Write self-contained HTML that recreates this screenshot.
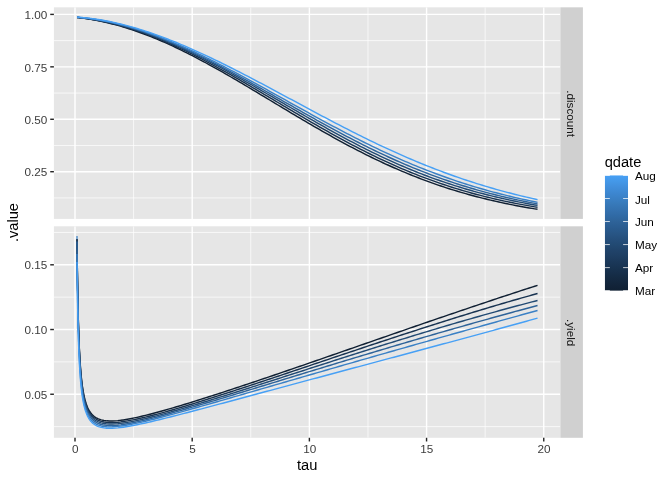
<!DOCTYPE html>
<html><head><meta charset="utf-8"><title>plot</title>
<style>svg{will-change:transform}svg text{filter:grayscale(1)}html,body{margin:0;padding:0;background:#fff;width:672px;height:480px;overflow:hidden;font-family:"Liberation Sans",sans-serif}</style>
</head><body>
<svg width="672" height="480" viewBox="0 0 672 480" style="position:absolute;left:0;top:0;font-family:'Liberation Sans',sans-serif">
<rect width="672" height="480" fill="#FFFFFF"/>
<defs><clipPath id="ct"><rect x="53.90" y="7.33" width="506.50" height="211.57"/></clipPath><clipPath id="cb"><rect x="53.90" y="226.30" width="506.50" height="211.50"/></clipPath>
<linearGradient id="lg" x1="0" y1="0" x2="0" y2="1"><stop offset="0.000" stop-color="#47A0F5"/><stop offset="0.050" stop-color="#4498E8"/><stop offset="0.100" stop-color="#418FDC"/><stop offset="0.150" stop-color="#3D87D1"/><stop offset="0.200" stop-color="#3A80C5"/><stop offset="0.250" stop-color="#3779B9"/><stop offset="0.300" stop-color="#3471AF"/><stop offset="0.350" stop-color="#306AA5"/><stop offset="0.400" stop-color="#2E6399"/><stop offset="0.450" stop-color="#2A5C90"/><stop offset="0.500" stop-color="#285686"/><stop offset="0.550" stop-color="#254F7C"/><stop offset="0.600" stop-color="#224A73"/><stop offset="0.650" stop-color="#20436A"/><stop offset="0.700" stop-color="#1E3E62"/><stop offset="0.750" stop-color="#1B3859"/><stop offset="0.800" stop-color="#183351"/><stop offset="0.850" stop-color="#162E49"/><stop offset="0.900" stop-color="#142941"/><stop offset="0.950" stop-color="#12243A"/><stop offset="1.000" stop-color="#102033"/></linearGradient></defs>
<rect x="53.90" y="7.33" width="506.50" height="211.57" fill="#E6E6E6"/>
<rect x="53.90" y="226.30" width="506.50" height="211.50" fill="#E6E6E6"/>
<g clip-path="url(#ct)" stroke="#FFFFFF">
<line x1="133.59" x2="133.59" y1="7.33" y2="218.90" stroke-width="0.71"/>
<line x1="250.78" x2="250.78" y1="7.33" y2="218.90" stroke-width="0.71"/>
<line x1="367.97" x2="367.97" y1="7.33" y2="218.90" stroke-width="0.71"/>
<line x1="485.16" x2="485.16" y1="7.33" y2="218.90" stroke-width="0.71"/>
<line x1="53.90" x2="560.40" y1="197.93" y2="197.93" stroke-width="0.71"/>
<line x1="53.90" x2="560.40" y1="145.49" y2="145.49" stroke-width="0.71"/>
<line x1="53.90" x2="560.40" y1="93.06" y2="93.06" stroke-width="0.71"/>
<line x1="53.90" x2="560.40" y1="40.62" y2="40.62" stroke-width="0.71"/>
<line x1="75.00" x2="75.00" y1="7.33" y2="218.90" stroke-width="1.42"/>
<line x1="192.19" x2="192.19" y1="7.33" y2="218.90" stroke-width="1.42"/>
<line x1="309.38" x2="309.38" y1="7.33" y2="218.90" stroke-width="1.42"/>
<line x1="426.56" x2="426.56" y1="7.33" y2="218.90" stroke-width="1.42"/>
<line x1="543.75" x2="543.75" y1="7.33" y2="218.90" stroke-width="1.42"/>
<line x1="53.90" x2="560.40" y1="171.71" y2="171.71" stroke-width="1.42"/>
<line x1="53.90" x2="560.40" y1="119.28" y2="119.28" stroke-width="1.42"/>
<line x1="53.90" x2="560.40" y1="66.84" y2="66.84" stroke-width="1.42"/>
<line x1="53.90" x2="560.40" y1="14.40" y2="14.40" stroke-width="1.42"/>
</g>
<g clip-path="url(#cb)" stroke="#FFFFFF">
<line x1="133.59" x2="133.59" y1="226.30" y2="437.80" stroke-width="0.71"/>
<line x1="250.78" x2="250.78" y1="226.30" y2="437.80" stroke-width="0.71"/>
<line x1="367.97" x2="367.97" y1="226.30" y2="437.80" stroke-width="0.71"/>
<line x1="485.16" x2="485.16" y1="226.30" y2="437.80" stroke-width="0.71"/>
<line x1="53.90" x2="560.40" y1="426.61" y2="426.61" stroke-width="0.71"/>
<line x1="53.90" x2="560.40" y1="361.89" y2="361.89" stroke-width="0.71"/>
<line x1="53.90" x2="560.40" y1="297.16" y2="297.16" stroke-width="0.71"/>
<line x1="53.90" x2="560.40" y1="232.44" y2="232.44" stroke-width="0.71"/>
<line x1="75.00" x2="75.00" y1="226.30" y2="437.80" stroke-width="1.42"/>
<line x1="192.19" x2="192.19" y1="226.30" y2="437.80" stroke-width="1.42"/>
<line x1="309.38" x2="309.38" y1="226.30" y2="437.80" stroke-width="1.42"/>
<line x1="426.56" x2="426.56" y1="226.30" y2="437.80" stroke-width="1.42"/>
<line x1="543.75" x2="543.75" y1="226.30" y2="437.80" stroke-width="1.42"/>
<line x1="53.90" x2="560.40" y1="394.25" y2="394.25" stroke-width="1.42"/>
<line x1="53.90" x2="560.40" y1="329.52" y2="329.52" stroke-width="1.42"/>
<line x1="53.90" x2="560.40" y1="264.80" y2="264.80" stroke-width="1.42"/>
</g>
<g clip-path="url(#ct)" fill="none" stroke-width="1.42" stroke-linejoin="round" stroke-linecap="butt">
<path d="M77.00,17.41 L77.36,17.45 L77.73,17.49 L78.09,17.53 L78.45,17.58 L78.82,17.62 L79.18,17.67 L79.54,17.71 L79.91,17.76 L80.27,17.80 L80.63,17.85 L81.00,17.89 L81.36,17.94 L81.72,17.99 L82.09,18.04 L82.45,18.09 L82.81,18.14 L83.18,18.19 L83.54,18.24 L83.90,18.29 L84.27,18.34 L84.63,18.39 L84.99,18.44 L85.36,18.50 L85.72,18.55 L86.08,18.61 L86.45,18.66 L86.81,18.72 L87.17,18.77 L87.54,18.83 L87.90,18.89 L88.26,18.94 L88.63,19.00 L88.99,19.06 L89.35,19.12 L89.72,19.18 L90.08,19.24 L90.44,19.30 L90.81,19.36 L91.17,19.42 L91.53,19.49 L91.90,19.55 L92.26,19.61 L92.62,19.68 L92.99,19.74 L93.35,19.81 L93.71,19.87 L94.08,19.94 L94.44,20.01 L94.80,20.07 L95.17,20.14 L95.53,20.21 L95.89,20.28 L96.26,20.35 L96.62,20.42 L96.98,20.49 L97.35,20.56 L97.71,20.63 L98.07,20.70 L98.44,20.78 L101.20,21.35 L103.96,21.95 L106.72,22.58 L109.48,23.24 L112.25,23.94 L115.01,24.66 L117.77,25.41 L120.53,26.19 L123.29,27.01 L126.05,27.85 L128.82,28.72 L131.58,29.61 L134.34,30.54 L137.10,31.49 L139.86,32.47 L142.62,33.48 L145.39,34.51 L148.15,35.57 L150.91,36.66 L153.67,37.77 L156.43,38.91 L159.19,40.07 L161.96,41.25 L164.72,42.46 L167.48,43.69 L170.24,44.94 L173.00,46.21 L175.76,47.51 L178.53,48.82 L181.29,50.16 L184.05,51.52 L186.81,52.89 L189.57,54.29 L192.33,55.70 L195.10,57.13 L197.86,58.57 L200.62,60.03 L203.38,61.51 L206.14,63.00 L208.90,64.51 L211.66,66.03 L214.43,67.56 L217.19,69.10 L219.95,70.66 L222.71,72.23 L225.47,73.81 L228.23,75.40 L231.00,77.00 L233.76,78.60 L236.52,80.22 L239.28,81.84 L242.04,83.47 L244.80,85.10 L247.57,86.75 L250.33,88.39 L253.09,90.04 L255.85,91.70 L258.61,93.35 L261.37,95.02 L264.14,96.68 L266.90,98.34 L269.66,100.01 L272.42,101.67 L275.18,103.34 L277.94,105.00 L280.71,106.66 L283.47,108.32 L286.23,109.98 L288.99,111.63 L291.75,113.29 L294.51,114.93 L297.28,116.57 L300.04,118.21 L302.80,119.84 L305.56,121.47 L308.32,123.09 L311.08,124.70 L313.85,126.30 L316.61,127.90 L319.37,129.49 L322.13,131.06 L324.89,132.63 L327.65,134.19 L330.42,135.74 L333.18,137.28 L335.94,138.80 L338.70,140.32 L341.46,141.82 L344.22,143.32 L346.99,144.79 L349.75,146.26 L352.51,147.71 L355.27,149.15 L358.03,150.58 L360.79,151.99 L363.56,153.39 L366.32,154.77 L369.08,156.14 L371.84,157.49 L374.60,158.82 L377.36,160.15 L380.13,161.45 L382.89,162.74 L385.65,164.02 L388.41,165.27 L391.17,166.51 L393.93,167.74 L396.70,168.95 L399.46,170.14 L402.22,171.31 L404.98,172.47 L407.74,173.61 L410.50,174.74 L413.27,175.84 L416.03,176.93 L418.79,178.01 L421.55,179.06 L424.31,180.10 L427.07,181.13 L429.83,182.13 L432.60,183.12 L435.36,184.09 L438.12,185.05 L440.88,185.98 L443.64,186.91 L446.40,187.81 L449.17,188.70 L451.93,189.57 L454.69,190.43 L457.45,191.27 L460.21,192.09 L462.97,192.90 L465.74,193.69 L468.50,194.47 L471.26,195.23 L474.02,195.97 L476.78,196.70 L479.54,197.42 L482.31,198.12 L485.07,198.81 L487.83,199.48 L490.59,200.13 L493.35,200.78 L496.11,201.41 L498.88,202.02 L501.64,202.62 L504.40,203.21 L507.16,203.79 L509.92,204.35 L512.68,204.90 L515.45,205.43 L518.21,205.96 L520.97,206.47 L523.73,206.97 L526.49,207.46 L529.25,207.93 L532.02,208.40 L534.78,208.85 L537.54,209.29" stroke="#102033"/>
<path d="M77.00,17.40 L77.36,17.44 L77.73,17.48 L78.09,17.52 L78.45,17.56 L78.82,17.60 L79.18,17.64 L79.54,17.68 L79.91,17.72 L80.27,17.76 L80.63,17.80 L81.00,17.85 L81.36,17.89 L81.72,17.93 L82.09,17.98 L82.45,18.02 L82.81,18.07 L83.18,18.11 L83.54,18.16 L83.90,18.21 L84.27,18.26 L84.63,18.30 L84.99,18.35 L85.36,18.40 L85.72,18.45 L86.08,18.50 L86.45,18.55 L86.81,18.61 L87.17,18.66 L87.54,18.71 L87.90,18.76 L88.26,18.82 L88.63,18.87 L88.99,18.93 L89.35,18.98 L89.72,19.04 L90.08,19.09 L90.44,19.15 L90.81,19.21 L91.17,19.27 L91.53,19.32 L91.90,19.38 L92.26,19.44 L92.62,19.50 L92.99,19.56 L93.35,19.62 L93.71,19.69 L94.08,19.75 L94.44,19.81 L94.80,19.87 L95.17,19.94 L95.53,20.00 L95.89,20.07 L96.26,20.13 L96.62,20.20 L96.98,20.26 L97.35,20.33 L97.71,20.40 L98.07,20.47 L98.44,20.54 L101.20,21.07 L103.96,21.64 L106.72,22.24 L109.48,22.87 L112.25,23.53 L115.01,24.22 L117.77,24.93 L120.53,25.68 L123.29,26.46 L126.05,27.26 L128.82,28.09 L131.58,28.95 L134.34,29.84 L137.10,30.76 L139.86,31.70 L142.62,32.67 L145.39,33.67 L148.15,34.69 L150.91,35.74 L153.67,36.81 L156.43,37.91 L159.19,39.03 L161.96,40.18 L164.72,41.35 L167.48,42.54 L170.24,43.75 L173.00,44.99 L175.76,46.24 L178.53,47.52 L181.29,48.82 L184.05,50.14 L186.81,51.47 L189.57,52.83 L192.33,54.20 L195.10,55.59 L197.86,57.00 L200.62,58.42 L203.38,59.86 L206.14,61.31 L208.90,62.78 L211.66,64.26 L214.43,65.76 L217.19,67.27 L219.95,68.79 L222.71,70.32 L225.47,71.86 L228.23,73.42 L231.00,74.98 L233.76,76.55 L236.52,78.13 L239.28,79.72 L242.04,81.32 L244.80,82.92 L247.57,84.53 L250.33,86.15 L253.09,87.77 L255.85,89.39 L258.61,91.02 L261.37,92.65 L264.14,94.29 L266.90,95.93 L269.66,97.57 L272.42,99.21 L275.18,100.85 L277.94,102.49 L280.71,104.14 L283.47,105.78 L286.23,107.42 L288.99,109.05 L291.75,110.69 L294.51,112.32 L297.28,113.95 L300.04,115.57 L302.80,117.19 L305.56,118.81 L308.32,120.42 L311.08,122.02 L313.85,123.62 L316.61,125.21 L319.37,126.79 L322.13,128.36 L324.89,129.93 L327.65,131.49 L330.42,133.03 L333.18,134.57 L335.94,136.10 L338.70,137.62 L341.46,139.12 L344.22,140.62 L346.99,142.10 L349.75,143.57 L352.51,145.03 L355.27,146.47 L358.03,147.90 L360.79,149.32 L363.56,150.72 L366.32,152.11 L369.08,153.49 L371.84,154.85 L374.60,156.20 L377.36,157.53 L380.13,158.84 L382.89,160.14 L385.65,161.42 L388.41,162.69 L391.17,163.94 L393.93,165.18 L396.70,166.39 L399.46,167.60 L402.22,168.78 L404.98,169.95 L407.74,171.10 L410.50,172.24 L413.27,173.35 L416.03,174.45 L418.79,175.54 L421.55,176.60 L424.31,177.65 L427.07,178.68 L429.83,179.70 L432.60,180.70 L435.36,181.68 L438.12,182.65 L440.88,183.59 L443.64,184.53 L446.40,185.44 L449.17,186.34 L451.93,187.22 L454.69,188.09 L457.45,188.94 L460.21,189.77 L462.97,190.59 L465.74,191.39 L468.50,192.18 L471.26,192.95 L474.02,193.71 L476.78,194.45 L479.54,195.17 L482.31,195.89 L485.07,196.58 L487.83,197.27 L490.59,197.93 L493.35,198.59 L496.11,199.23 L498.88,199.86 L501.64,200.47 L504.40,201.07 L507.16,201.66 L509.92,202.23 L512.68,202.79 L515.45,203.34 L518.21,203.88 L520.97,204.41 L523.73,204.92 L526.49,205.42 L529.25,205.91 L532.02,206.39 L534.78,206.85 L537.54,207.31" stroke="#183351"/>
<path d="M77.00,17.37 L77.36,17.40 L77.73,17.44 L78.09,17.47 L78.45,17.51 L78.82,17.54 L79.18,17.58 L79.54,17.62 L79.91,17.65 L80.27,17.69 L80.63,17.73 L81.00,17.77 L81.36,17.81 L81.72,17.85 L82.09,17.89 L82.45,17.93 L82.81,17.97 L83.18,18.02 L83.54,18.06 L83.90,18.10 L84.27,18.15 L84.63,18.19 L84.99,18.24 L85.36,18.28 L85.72,18.33 L86.08,18.38 L86.45,18.42 L86.81,18.47 L87.17,18.52 L87.54,18.57 L87.90,18.62 L88.26,18.67 L88.63,18.72 L88.99,18.77 L89.35,18.82 L89.72,18.87 L90.08,18.93 L90.44,18.98 L90.81,19.03 L91.17,19.09 L91.53,19.14 L91.90,19.20 L92.26,19.25 L92.62,19.31 L92.99,19.37 L93.35,19.43 L93.71,19.48 L94.08,19.54 L94.44,19.60 L94.80,19.66 L95.17,19.72 L95.53,19.78 L95.89,19.84 L96.26,19.90 L96.62,19.97 L96.98,20.03 L97.35,20.09 L97.71,20.16 L98.07,20.22 L98.44,20.29 L101.20,20.80 L103.96,21.34 L106.72,21.91 L109.48,22.52 L112.25,23.15 L115.01,23.81 L117.77,24.50 L120.53,25.22 L123.29,25.97 L126.05,26.75 L128.82,27.56 L131.58,28.39 L134.34,29.25 L137.10,30.14 L139.86,31.06 L142.62,32.00 L145.39,32.97 L148.15,33.96 L150.91,34.98 L153.67,36.03 L156.43,37.10 L159.19,38.19 L161.96,39.30 L164.72,40.44 L167.48,41.60 L170.24,42.79 L173.00,43.99 L175.76,45.22 L178.53,46.46 L181.29,47.73 L184.05,49.01 L186.81,50.31 L189.57,51.64 L192.33,52.97 L195.10,54.33 L197.86,55.70 L200.62,57.09 L203.38,58.49 L206.14,59.91 L208.90,61.34 L211.66,62.79 L214.43,64.25 L217.19,65.72 L219.95,67.21 L222.71,68.70 L225.47,70.21 L228.23,71.72 L231.00,73.25 L233.76,74.79 L236.52,76.33 L239.28,77.88 L242.04,79.44 L244.80,81.01 L247.57,82.59 L250.33,84.17 L253.09,85.75 L255.85,87.34 L258.61,88.94 L261.37,90.54 L264.14,92.14 L266.90,93.74 L269.66,95.35 L272.42,96.96 L275.18,98.57 L277.94,100.18 L280.71,101.79 L283.47,103.41 L286.23,105.02 L288.99,106.63 L291.75,108.24 L294.51,109.84 L297.28,111.45 L300.04,113.05 L302.80,114.64 L305.56,116.24 L308.32,117.82 L311.08,119.41 L313.85,120.99 L316.61,122.56 L319.37,124.12 L322.13,125.68 L324.89,127.23 L327.65,128.77 L330.42,130.31 L333.18,131.83 L335.94,133.35 L338.70,134.85 L341.46,136.35 L344.22,137.84 L346.99,139.31 L349.75,140.78 L352.51,142.23 L355.27,143.67 L358.03,145.10 L360.79,146.51 L363.56,147.91 L366.32,149.30 L369.08,150.68 L371.84,152.04 L374.60,153.38 L377.36,154.71 L380.13,156.03 L382.89,157.33 L385.65,158.62 L388.41,159.89 L391.17,161.15 L393.93,162.39 L396.70,163.62 L399.46,164.83 L402.22,166.02 L404.98,167.19 L407.74,168.36 L410.50,169.50 L413.27,170.63 L416.03,171.74 L418.79,172.83 L421.55,173.91 L424.31,174.97 L427.07,176.02 L429.83,177.05 L432.60,178.06 L435.36,179.05 L438.12,180.03 L440.88,181.00 L443.64,181.94 L446.40,182.87 L449.17,183.79 L451.93,184.69 L454.69,185.57 L457.45,186.44 L460.21,187.29 L462.97,188.13 L465.74,188.95 L468.50,189.75 L471.26,190.54 L474.02,191.32 L476.78,192.08 L479.54,192.82 L482.31,193.56 L485.07,194.27 L487.83,194.98 L490.59,195.67 L493.35,196.34 L496.11,197.00 L498.88,197.65 L501.64,198.29 L504.40,198.91 L507.16,199.52 L509.92,200.11 L512.68,200.70 L515.45,201.27 L518.21,201.83 L520.97,202.38 L523.73,202.91 L526.49,203.44 L529.25,203.95 L532.02,204.45 L534.78,204.94 L537.54,205.42" stroke="#224A73"/>
<path d="M77.00,17.37 L77.36,17.40 L77.73,17.42 L78.09,17.45 L78.45,17.48 L78.82,17.52 L79.18,17.55 L79.54,17.58 L79.91,17.61 L80.27,17.64 L80.63,17.68 L81.00,17.71 L81.36,17.75 L81.72,17.78 L82.09,17.82 L82.45,17.86 L82.81,17.89 L83.18,17.93 L83.54,17.97 L83.90,18.01 L84.27,18.05 L84.63,18.09 L84.99,18.13 L85.36,18.17 L85.72,18.21 L86.08,18.25 L86.45,18.30 L86.81,18.34 L87.17,18.38 L87.54,18.43 L87.90,18.47 L88.26,18.52 L88.63,18.57 L88.99,18.61 L89.35,18.66 L89.72,18.71 L90.08,18.76 L90.44,18.81 L90.81,18.86 L91.17,18.91 L91.53,18.96 L91.90,19.01 L92.26,19.06 L92.62,19.11 L92.99,19.17 L93.35,19.22 L93.71,19.27 L94.08,19.33 L94.44,19.38 L94.80,19.44 L95.17,19.50 L95.53,19.55 L95.89,19.61 L96.26,19.67 L96.62,19.73 L96.98,19.79 L97.35,19.85 L97.71,19.91 L98.07,19.97 L98.44,20.03 L101.20,20.52 L103.96,21.03 L106.72,21.58 L109.48,22.16 L112.25,22.77 L115.01,23.41 L117.77,24.08 L120.53,24.78 L123.29,25.51 L126.05,26.27 L128.82,27.06 L131.58,27.87 L134.34,28.72 L137.10,29.59 L139.86,30.49 L142.62,31.41 L145.39,32.36 L148.15,33.34 L150.91,34.34 L153.67,35.36 L156.43,36.41 L159.19,37.48 L161.96,38.58 L164.72,39.70 L167.48,40.84 L170.24,42.00 L173.00,43.18 L175.76,44.38 L178.53,45.60 L181.29,46.84 L184.05,48.10 L186.81,49.38 L189.57,50.68 L192.33,51.99 L195.10,53.32 L197.86,54.66 L200.62,56.02 L203.38,57.39 L206.14,58.78 L208.90,60.18 L211.66,61.60 L214.43,63.02 L217.19,64.46 L219.95,65.91 L222.71,67.37 L225.47,68.85 L228.23,70.33 L231.00,71.82 L233.76,73.32 L236.52,74.83 L239.28,76.34 L242.04,77.86 L244.80,79.39 L247.57,80.93 L250.33,82.47 L253.09,84.02 L255.85,85.57 L258.61,87.13 L261.37,88.69 L264.14,90.25 L266.90,91.82 L269.66,93.39 L272.42,94.96 L275.18,96.54 L277.94,98.11 L280.71,99.69 L283.47,101.26 L286.23,102.84 L288.99,104.41 L291.75,105.98 L294.51,107.55 L297.28,109.12 L300.04,110.69 L302.80,112.26 L305.56,113.82 L308.32,115.37 L311.08,116.92 L313.85,118.47 L316.61,120.02 L319.37,121.55 L322.13,123.08 L324.89,124.61 L327.65,126.12 L330.42,127.63 L333.18,129.14 L335.94,130.63 L338.70,132.12 L341.46,133.59 L344.22,135.06 L346.99,136.52 L349.75,137.97 L352.51,139.40 L355.27,140.83 L358.03,142.25 L360.79,143.65 L363.56,145.04 L366.32,146.42 L369.08,147.79 L371.84,149.14 L374.60,150.49 L377.36,151.81 L380.13,153.13 L382.89,154.43 L385.65,155.72 L388.41,156.99 L391.17,158.25 L393.93,159.50 L396.70,160.73 L399.46,161.94 L402.22,163.14 L404.98,164.33 L407.74,165.50 L410.50,166.66 L413.27,167.80 L416.03,168.92 L418.79,170.03 L421.55,171.13 L424.31,172.21 L427.07,173.27 L429.83,174.32 L432.60,175.35 L435.36,176.37 L438.12,177.37 L440.88,178.35 L443.64,179.33 L446.40,180.28 L449.17,181.22 L451.93,182.15 L454.69,183.06 L457.45,183.95 L460.21,184.83 L462.97,185.70 L465.74,186.55 L468.50,187.39 L471.26,188.21 L474.02,189.02 L476.78,189.81 L479.54,190.59 L482.31,191.35 L485.07,192.10 L487.83,192.84 L490.59,193.57 L493.35,194.28 L496.11,194.97 L498.88,195.66 L501.64,196.33 L504.40,196.99 L507.16,197.63 L509.92,198.27 L512.68,198.89 L515.45,199.49 L518.21,200.09 L520.97,200.68 L523.73,201.25 L526.49,201.81 L529.25,202.36 L532.02,202.90 L534.78,203.42 L537.54,203.94" stroke="#2E6399"/>
<path d="M77.00,17.20 L77.36,17.23 L77.73,17.25 L78.09,17.28 L78.45,17.31 L78.82,17.34 L79.18,17.37 L79.54,17.40 L79.91,17.43 L80.27,17.47 L80.63,17.50 L81.00,17.53 L81.36,17.57 L81.72,17.60 L82.09,17.64 L82.45,17.67 L82.81,17.71 L83.18,17.74 L83.54,17.78 L83.90,17.82 L84.27,17.86 L84.63,17.90 L84.99,17.94 L85.36,17.98 L85.72,18.02 L86.08,18.06 L86.45,18.10 L86.81,18.14 L87.17,18.18 L87.54,18.23 L87.90,18.27 L88.26,18.32 L88.63,18.36 L88.99,18.41 L89.35,18.45 L89.72,18.50 L90.08,18.55 L90.44,18.59 L90.81,18.64 L91.17,18.69 L91.53,18.74 L91.90,18.79 L92.26,18.84 L92.62,18.89 L92.99,18.95 L93.35,19.00 L93.71,19.05 L94.08,19.10 L94.44,19.16 L94.80,19.21 L95.17,19.27 L95.53,19.32 L95.89,19.38 L96.26,19.44 L96.62,19.49 L96.98,19.55 L97.35,19.61 L97.71,19.67 L98.07,19.73 L98.44,19.79 L101.20,20.26 L103.96,20.77 L106.72,21.30 L109.48,21.87 L112.25,22.47 L115.01,23.09 L117.77,23.75 L120.53,24.44 L123.29,25.15 L126.05,25.89 L128.82,26.66 L131.58,27.46 L134.34,28.28 L137.10,29.13 L139.86,30.01 L142.62,30.91 L145.39,31.84 L148.15,32.79 L150.91,33.77 L153.67,34.77 L156.43,35.79 L159.19,36.84 L161.96,37.91 L164.72,39.00 L167.48,40.11 L170.24,41.24 L173.00,42.39 L175.76,43.56 L178.53,44.75 L181.29,45.96 L184.05,47.19 L186.81,48.43 L189.57,49.69 L192.33,50.97 L195.10,52.26 L197.86,53.57 L200.62,54.89 L203.38,56.23 L206.14,57.58 L208.90,58.94 L211.66,60.32 L214.43,61.70 L217.19,63.10 L219.95,64.51 L222.71,65.94 L225.47,67.37 L228.23,68.81 L231.00,70.26 L233.76,71.72 L236.52,73.18 L239.28,74.66 L242.04,76.14 L244.80,77.63 L247.57,79.13 L250.33,80.63 L253.09,82.13 L255.85,83.65 L258.61,85.16 L261.37,86.68 L264.14,88.21 L266.90,89.73 L269.66,91.26 L272.42,92.80 L275.18,94.33 L277.94,95.87 L280.71,97.40 L283.47,98.94 L286.23,100.48 L288.99,102.02 L291.75,103.56 L294.51,105.09 L297.28,106.63 L300.04,108.16 L302.80,109.69 L305.56,111.22 L308.32,112.74 L311.08,114.26 L313.85,115.78 L316.61,117.30 L319.37,118.80 L322.13,120.31 L324.89,121.81 L327.65,123.30 L330.42,124.78 L333.18,126.26 L335.94,127.73 L338.70,129.20 L341.46,130.66 L344.22,132.10 L346.99,133.54 L349.75,134.98 L352.51,136.40 L355.27,137.81 L358.03,139.21 L360.79,140.61 L363.56,141.99 L366.32,143.36 L369.08,144.72 L371.84,146.07 L374.60,147.40 L377.36,148.73 L380.13,150.04 L382.89,151.34 L385.65,152.63 L388.41,153.91 L391.17,155.17 L393.93,156.42 L396.70,157.66 L399.46,158.88 L402.22,160.09 L404.98,161.28 L407.74,162.46 L410.50,163.63 L413.27,164.79 L416.03,165.93 L418.79,167.05 L421.55,168.16 L424.31,169.26 L427.07,170.34 L429.83,171.41 L432.60,172.46 L435.36,173.50 L438.12,174.53 L440.88,175.54 L443.64,176.54 L446.40,177.52 L449.17,178.49 L451.93,179.44 L454.69,180.38 L457.45,181.30 L460.21,182.21 L462.97,183.11 L465.74,183.99 L468.50,184.86 L471.26,185.72 L474.02,186.56 L476.78,187.39 L479.54,188.20 L482.31,189.00 L485.07,189.79 L487.83,190.56 L490.59,191.32 L493.35,192.07 L496.11,192.80 L498.88,193.53 L501.64,194.23 L504.40,194.93 L507.16,195.61 L509.92,196.28 L512.68,196.94 L515.45,197.59 L518.21,198.22 L520.97,198.85 L523.73,199.46 L526.49,200.06 L529.25,200.65 L532.02,201.22 L534.78,201.79 L537.54,202.34" stroke="#3A80C5"/>
<path d="M77.00,17.09 L77.36,17.12 L77.73,17.14 L78.09,17.17 L78.45,17.20 L78.82,17.23 L79.18,17.25 L79.54,17.28 L79.91,17.31 L80.27,17.34 L80.63,17.37 L81.00,17.41 L81.36,17.44 L81.72,17.47 L82.09,17.50 L82.45,17.54 L82.81,17.57 L83.18,17.61 L83.54,17.64 L83.90,17.68 L84.27,17.71 L84.63,17.75 L84.99,17.79 L85.36,17.83 L85.72,17.86 L86.08,17.90 L86.45,17.94 L86.81,17.98 L87.17,18.02 L87.54,18.06 L87.90,18.11 L88.26,18.15 L88.63,18.19 L88.99,18.24 L89.35,18.28 L89.72,18.32 L90.08,18.37 L90.44,18.41 L90.81,18.46 L91.17,18.51 L91.53,18.55 L91.90,18.60 L92.26,18.65 L92.62,18.70 L92.99,18.75 L93.35,18.80 L93.71,18.85 L94.08,18.90 L94.44,18.95 L94.80,19.00 L95.17,19.06 L95.53,19.11 L95.89,19.16 L96.26,19.22 L96.62,19.27 L96.98,19.33 L97.35,19.38 L97.71,19.44 L98.07,19.50 L98.44,19.55 L101.20,20.01 L103.96,20.49 L106.72,21.00 L109.48,21.54 L112.25,22.12 L115.01,22.71 L117.77,23.34 L120.53,24.00 L123.29,24.68 L126.05,25.39 L128.82,26.13 L131.58,26.89 L134.34,27.68 L137.10,28.49 L139.86,29.33 L142.62,30.19 L145.39,31.08 L148.15,31.99 L150.91,32.92 L153.67,33.88 L156.43,34.85 L159.19,35.85 L161.96,36.87 L164.72,37.91 L167.48,38.97 L170.24,40.05 L173.00,41.15 L175.76,42.27 L178.53,43.40 L181.29,44.56 L184.05,45.72 L186.81,46.91 L189.57,48.11 L192.33,49.33 L195.10,50.56 L197.86,51.81 L200.62,53.07 L203.38,54.35 L206.14,55.64 L208.90,56.94 L211.66,58.25 L214.43,59.58 L217.19,60.91 L219.95,62.26 L222.71,63.62 L225.47,64.99 L228.23,66.36 L231.00,67.75 L233.76,69.15 L236.52,70.55 L239.28,71.96 L242.04,73.38 L244.80,74.81 L247.57,76.24 L250.33,77.68 L253.09,79.12 L255.85,80.57 L258.61,82.03 L261.37,83.49 L264.14,84.95 L266.90,86.42 L269.66,87.89 L272.42,89.36 L275.18,90.84 L277.94,92.32 L280.71,93.80 L283.47,95.29 L286.23,96.77 L288.99,98.26 L291.75,99.74 L294.51,101.23 L297.28,102.71 L300.04,104.20 L302.80,105.68 L305.56,107.16 L308.32,108.64 L311.08,110.12 L313.85,111.60 L316.61,113.07 L319.37,114.54 L322.13,116.01 L324.89,117.47 L327.65,118.93 L330.42,120.38 L333.18,121.83 L335.94,123.27 L338.70,124.71 L341.46,126.14 L344.22,127.56 L346.99,128.98 L349.75,130.39 L352.51,131.79 L355.27,133.18 L358.03,134.57 L360.79,135.95 L363.56,137.32 L366.32,138.68 L369.08,140.03 L371.84,141.37 L374.60,142.70 L377.36,144.02 L380.13,145.33 L382.89,146.63 L385.65,147.92 L388.41,149.20 L391.17,150.47 L393.93,151.72 L396.70,152.97 L399.46,154.20 L402.22,155.42 L404.98,156.63 L407.74,157.82 L410.50,159.01 L413.27,160.18 L416.03,161.34 L418.79,162.49 L421.55,163.62 L424.31,164.74 L427.07,165.85 L429.83,166.94 L432.60,168.03 L435.36,169.10 L438.12,170.15 L440.88,171.20 L443.64,172.23 L446.40,173.24 L449.17,174.25 L451.93,175.24 L454.69,176.21 L457.45,177.18 L460.21,178.13 L462.97,179.07 L465.74,179.99 L468.50,180.91 L471.26,181.80 L474.02,182.69 L476.78,183.56 L479.54,184.42 L482.31,185.27 L485.07,186.11 L487.83,186.93 L490.59,187.74 L493.35,188.53 L496.11,189.32 L498.88,190.09 L501.64,190.85 L504.40,191.60 L507.16,192.33 L509.92,193.06 L512.68,193.77 L515.45,194.47 L518.21,195.15 L520.97,195.83 L523.73,196.49 L526.49,197.15 L529.25,197.79 L532.02,198.42 L534.78,199.03 L537.54,199.64" stroke="#47A0F5"/>
</g>
<g clip-path="url(#cb)" fill="none" stroke-width="1.42" stroke-linejoin="round" stroke-linecap="butt">
<path d="M77.00,235.9 L77.00,240" stroke="#3A80C5" stroke-opacity="0.85"/>
<path d="M77.00,239.20 L77.36,270.43 L77.73,293.30 L78.09,310.77 L78.45,324.53 L78.82,335.66 L79.18,344.83 L79.54,352.51 L79.91,359.04 L80.27,364.65 L80.63,369.53 L81.00,373.80 L81.36,377.57 L81.72,380.92 L82.09,383.91 L82.45,386.61 L82.81,389.04 L83.18,391.24 L83.54,393.25 L83.90,395.08 L84.27,396.76 L84.63,398.31 L84.99,399.74 L85.36,401.05 L85.72,402.27 L86.08,403.41 L86.45,404.46 L86.81,405.44 L87.17,406.36 L87.54,407.22 L87.90,408.02 L88.26,408.77 L88.63,409.48 L88.99,410.14 L89.35,410.76 L89.72,411.35 L90.08,411.90 L90.44,412.43 L90.81,412.92 L91.17,413.38 L91.53,413.82 L91.90,414.24 L92.26,414.63 L92.62,415.01 L92.99,415.36 L93.35,415.69 L93.71,416.01 L94.08,416.31 L94.44,416.60 L94.80,416.87 L95.17,417.12 L95.53,417.37 L95.89,417.60 L96.26,417.82 L96.62,418.03 L96.98,418.22 L97.35,418.41 L97.71,418.59 L98.07,418.76 L98.44,418.91 L101.20,419.88 L103.96,420.48 L106.72,420.83 L109.48,420.98 L112.25,420.98 L115.01,420.85 L117.77,420.62 L120.53,420.31 L123.29,419.93 L126.05,419.50 L128.82,419.01 L131.58,418.48 L134.34,417.92 L137.10,417.32 L139.86,416.70 L142.62,416.05 L145.39,415.38 L148.15,414.69 L150.91,413.98 L153.67,413.26 L156.43,412.52 L159.19,411.77 L161.96,411.00 L164.72,410.22 L167.48,409.44 L170.24,408.64 L173.00,407.84 L175.76,407.02 L178.53,406.20 L181.29,405.37 L184.05,404.54 L186.81,403.70 L189.57,402.85 L192.33,402.00 L195.10,401.14 L197.86,400.27 L200.62,399.41 L203.38,398.53 L206.14,397.66 L208.90,396.77 L211.66,395.89 L214.43,395.00 L217.19,394.11 L219.95,393.21 L222.71,392.31 L225.47,391.41 L228.23,390.50 L231.00,389.60 L233.76,388.69 L236.52,387.77 L239.28,386.86 L242.04,385.94 L244.80,385.02 L247.57,384.10 L250.33,383.17 L253.09,382.24 L255.85,381.31 L258.61,380.38 L261.37,379.45 L264.14,378.52 L266.90,377.58 L269.66,376.64 L272.42,375.71 L275.18,374.76 L277.94,373.82 L280.71,372.88 L283.47,371.94 L286.23,370.99 L288.99,370.04 L291.75,369.10 L294.51,368.15 L297.28,367.20 L300.04,366.25 L302.80,365.30 L305.56,364.34 L308.32,363.39 L311.08,362.44 L313.85,361.48 L316.61,360.53 L319.37,359.57 L322.13,358.61 L324.89,357.66 L327.65,356.70 L330.42,355.74 L333.18,354.78 L335.94,353.82 L338.70,352.86 L341.46,351.91 L344.22,350.95 L346.99,349.99 L349.75,349.03 L352.51,348.07 L355.27,347.11 L358.03,346.15 L360.79,345.19 L363.56,344.23 L366.32,343.27 L369.08,342.31 L371.84,341.35 L374.60,340.39 L377.36,339.43 L380.13,338.47 L382.89,337.51 L385.65,336.55 L388.41,335.59 L391.17,334.64 L393.93,333.68 L396.70,332.72 L399.46,331.77 L402.22,330.81 L404.98,329.85 L407.74,328.90 L410.50,327.95 L413.27,326.99 L416.03,326.04 L418.79,325.09 L421.55,324.14 L424.31,323.19 L427.07,322.24 L429.83,321.29 L432.60,320.34 L435.36,319.40 L438.12,318.45 L440.88,317.50 L443.64,316.56 L446.40,315.62 L449.17,314.68 L451.93,313.74 L454.69,312.80 L457.45,311.86 L460.21,310.92 L462.97,309.99 L465.74,309.05 L468.50,308.12 L471.26,307.19 L474.02,306.26 L476.78,305.33 L479.54,304.40 L482.31,303.47 L485.07,302.55 L487.83,301.63 L490.59,300.71 L493.35,299.79 L496.11,298.87 L498.88,297.95 L501.64,297.04 L504.40,296.12 L507.16,295.21 L509.92,294.30 L512.68,293.40 L515.45,292.49 L518.21,291.59 L520.97,290.68 L523.73,289.78 L526.49,288.89 L529.25,287.99 L532.02,287.09 L534.78,286.20 L537.54,285.31" stroke="#102033"/>
<path d="M77.00,239.20 L77.36,270.65 L77.73,293.69 L78.09,311.28 L78.45,325.14 L78.82,336.34 L79.18,345.58 L79.54,353.32 L79.91,359.90 L80.27,365.55 L80.63,370.47 L81.00,374.77 L81.36,378.57 L81.72,381.94 L82.09,384.96 L82.45,387.68 L82.81,390.13 L83.18,392.35 L83.54,394.38 L83.90,396.23 L84.27,397.92 L84.63,399.48 L84.99,400.92 L85.36,402.25 L85.72,403.48 L86.08,404.63 L86.45,405.69 L86.81,406.68 L87.17,407.61 L87.54,408.47 L87.90,409.29 L88.26,410.05 L88.63,410.76 L88.99,411.43 L89.35,412.06 L89.72,412.66 L90.08,413.22 L90.44,413.75 L90.81,414.24 L91.17,414.72 L91.53,415.16 L91.90,415.58 L92.26,415.98 L92.62,416.36 L92.99,416.72 L93.35,417.06 L93.71,417.38 L94.08,417.69 L94.44,417.98 L94.80,418.26 L95.17,418.52 L95.53,418.76 L95.89,419.00 L96.26,419.22 L96.62,419.44 L96.98,419.64 L97.35,419.83 L97.71,420.01 L98.07,420.18 L98.44,420.35 L101.20,421.34 L103.96,421.97 L106.72,422.34 L109.48,422.52 L112.25,422.53 L115.01,422.42 L117.77,422.21 L120.53,421.92 L123.29,421.56 L126.05,421.14 L128.82,420.67 L131.58,420.16 L134.34,419.61 L137.10,419.03 L139.86,418.42 L142.62,417.79 L145.39,417.13 L148.15,416.45 L150.91,415.76 L153.67,415.04 L156.43,414.32 L159.19,413.58 L161.96,412.82 L164.72,412.06 L167.48,411.29 L170.24,410.50 L173.00,409.71 L175.76,408.91 L178.53,408.10 L181.29,407.28 L184.05,406.46 L186.81,405.63 L189.57,404.79 L192.33,403.95 L195.10,403.10 L197.86,402.25 L200.62,401.39 L203.38,400.53 L206.14,399.67 L208.90,398.80 L211.66,397.93 L214.43,397.05 L217.19,396.17 L219.95,395.29 L222.71,394.40 L225.47,393.51 L228.23,392.62 L231.00,391.72 L233.76,390.83 L236.52,389.93 L239.28,389.03 L242.04,388.12 L244.80,387.22 L247.57,386.31 L250.33,385.40 L253.09,384.49 L255.85,383.58 L258.61,382.66 L261.37,381.75 L264.14,380.83 L266.90,379.91 L269.66,378.99 L272.42,378.07 L275.18,377.15 L277.94,376.23 L280.71,375.31 L283.47,374.38 L286.23,373.46 L288.99,372.53 L291.75,371.61 L294.51,370.68 L297.28,369.75 L300.04,368.83 L302.80,367.90 L305.56,366.97 L308.32,366.05 L311.08,365.12 L313.85,364.19 L316.61,363.26 L319.37,362.33 L322.13,361.41 L324.89,360.48 L327.65,359.55 L330.42,358.62 L333.18,357.70 L335.94,356.77 L338.70,355.84 L341.46,354.92 L344.22,353.99 L346.99,353.07 L349.75,352.15 L352.51,351.22 L355.27,350.30 L358.03,349.38 L360.79,348.46 L363.56,347.54 L366.32,346.62 L369.08,345.70 L371.84,344.79 L374.60,343.87 L377.36,342.96 L380.13,342.04 L382.89,341.13 L385.65,340.22 L388.41,339.31 L391.17,338.40 L393.93,337.50 L396.70,336.59 L399.46,335.69 L402.22,334.79 L404.98,333.89 L407.74,332.99 L410.50,332.09 L413.27,331.20 L416.03,330.31 L418.79,329.41 L421.55,328.52 L424.31,327.64 L427.07,326.75 L429.83,325.87 L432.60,324.99 L435.36,324.11 L438.12,323.23 L440.88,322.36 L443.64,321.49 L446.40,320.62 L449.17,319.75 L451.93,318.88 L454.69,318.02 L457.45,317.16 L460.21,316.30 L462.97,315.45 L465.74,314.60 L468.50,313.75 L471.26,312.90 L474.02,312.05 L476.78,311.21 L479.54,310.37 L482.31,309.54 L485.07,308.71 L487.83,307.88 L490.59,307.05 L493.35,306.23 L496.11,305.41 L498.88,304.59 L501.64,303.78 L504.40,302.97 L507.16,302.16 L509.92,301.35 L512.68,300.55 L515.45,299.76 L518.21,298.96 L520.97,298.17 L523.73,297.39 L526.49,296.60 L529.25,295.82 L532.02,295.05 L534.78,294.28 L537.54,293.51" stroke="#183351"/>
<path d="M77.00,241.50 L77.36,272.83 L77.73,295.78 L78.09,313.30 L78.45,327.11 L78.82,338.27 L79.18,347.47 L79.54,355.18 L79.91,361.73 L80.27,367.36 L80.63,372.25 L81.00,376.54 L81.36,380.32 L81.72,383.68 L82.09,386.69 L82.45,389.39 L82.81,391.83 L83.18,394.04 L83.54,396.06 L83.90,397.90 L84.27,399.59 L84.63,401.14 L84.99,402.57 L85.36,403.89 L85.72,405.12 L86.08,406.26 L86.45,407.32 L86.81,408.30 L87.17,409.22 L87.54,410.08 L87.90,410.89 L88.26,411.65 L88.63,412.36 L88.99,413.02 L89.35,413.65 L89.72,414.24 L90.08,414.80 L90.44,415.32 L90.81,415.82 L91.17,416.29 L91.53,416.73 L91.90,417.15 L92.26,417.55 L92.62,417.92 L92.99,418.28 L93.35,418.62 L93.71,418.94 L94.08,419.24 L94.44,419.53 L94.80,419.80 L95.17,420.06 L95.53,420.31 L95.89,420.54 L96.26,420.76 L96.62,420.97 L96.98,421.17 L97.35,421.36 L97.71,421.54 L98.07,421.71 L98.44,421.87 L101.20,422.85 L103.96,423.48 L106.72,423.84 L109.48,424.01 L112.25,424.02 L115.01,423.90 L117.77,423.69 L120.53,423.40 L123.29,423.04 L126.05,422.62 L128.82,422.15 L131.58,421.64 L134.34,421.09 L137.10,420.51 L139.86,419.91 L142.62,419.28 L145.39,418.63 L148.15,417.96 L150.91,417.27 L153.67,416.56 L156.43,415.84 L159.19,415.11 L161.96,414.37 L164.72,413.62 L167.48,412.85 L170.24,412.08 L173.00,411.30 L175.76,410.51 L178.53,409.71 L181.29,408.91 L184.05,408.10 L186.81,407.29 L189.57,406.47 L192.33,405.64 L195.10,404.81 L197.86,403.98 L200.62,403.14 L203.38,402.30 L206.14,401.46 L208.90,400.61 L211.66,399.75 L214.43,398.90 L217.19,398.04 L219.95,397.18 L222.71,396.32 L225.47,395.45 L228.23,394.58 L231.00,393.71 L233.76,392.84 L236.52,391.97 L239.28,391.09 L242.04,390.22 L244.80,389.34 L247.57,388.46 L250.33,387.58 L253.09,386.69 L255.85,385.81 L258.61,384.93 L261.37,384.04 L264.14,383.16 L266.90,382.27 L269.66,381.38 L272.42,380.49 L275.18,379.60 L277.94,378.72 L280.71,377.83 L283.47,376.94 L286.23,376.05 L288.99,375.16 L291.75,374.26 L294.51,373.37 L297.28,372.48 L300.04,371.59 L302.80,370.70 L305.56,369.81 L308.32,368.92 L311.08,368.03 L313.85,367.14 L316.61,366.25 L319.37,365.37 L322.13,364.48 L324.89,363.59 L327.65,362.70 L330.42,361.82 L333.18,360.93 L335.94,360.05 L338.70,359.16 L341.46,358.28 L344.22,357.40 L346.99,356.51 L349.75,355.63 L352.51,354.75 L355.27,353.88 L358.03,353.00 L360.79,352.12 L363.56,351.25 L366.32,350.38 L369.08,349.50 L371.84,348.63 L374.60,347.76 L377.36,346.89 L380.13,346.03 L382.89,345.16 L385.65,344.30 L388.41,343.44 L391.17,342.58 L393.93,341.72 L396.70,340.86 L399.46,340.01 L402.22,339.16 L404.98,338.31 L407.74,337.46 L410.50,336.61 L413.27,335.76 L416.03,334.92 L418.79,334.08 L421.55,333.24 L424.31,332.41 L427.07,331.57 L429.83,330.74 L432.60,329.91 L435.36,329.08 L438.12,328.26 L440.88,327.43 L443.64,326.61 L446.40,325.80 L449.17,324.98 L451.93,324.17 L454.69,323.36 L457.45,322.55 L460.21,321.75 L462.97,320.95 L465.74,320.15 L468.50,319.35 L471.26,318.56 L474.02,317.77 L476.78,316.98 L479.54,316.20 L482.31,315.41 L485.07,314.64 L487.83,313.86 L490.59,313.09 L493.35,312.32 L496.11,311.56 L498.88,310.79 L501.64,310.03 L504.40,309.28 L507.16,308.53 L509.92,307.78 L512.68,307.03 L515.45,306.29 L518.21,305.55 L520.97,304.82 L523.73,304.09 L526.49,303.36 L529.25,302.64 L532.02,301.92 L534.78,301.20 L537.54,300.49" stroke="#224A73"/>
<path d="M77.00,241.50 L77.36,273.16 L77.73,296.34 L78.09,314.05 L78.45,328.00 L78.82,339.27 L79.18,348.56 L79.54,356.35 L79.91,362.97 L80.27,368.65 L80.63,373.59 L81.00,377.92 L81.36,381.73 L81.72,385.13 L82.09,388.16 L82.45,390.88 L82.81,393.34 L83.18,395.57 L83.54,397.60 L83.90,399.46 L84.27,401.16 L84.63,402.73 L84.99,404.17 L85.36,405.50 L85.72,406.73 L86.08,407.88 L86.45,408.94 L86.81,409.93 L87.17,410.86 L87.54,411.73 L87.90,412.54 L88.26,413.29 L88.63,414.01 L88.99,414.68 L89.35,415.30 L89.72,415.90 L90.08,416.46 L90.44,416.98 L90.81,417.48 L91.17,417.95 L91.53,418.39 L91.90,418.81 L92.26,419.21 L92.62,419.58 L92.99,419.94 L93.35,420.27 L93.71,420.59 L94.08,420.89 L94.44,421.18 L94.80,421.45 L95.17,421.71 L95.53,421.95 L95.89,422.19 L96.26,422.41 L96.62,422.61 L96.98,422.81 L97.35,423.00 L97.71,423.18 L98.07,423.34 L98.44,423.50 L101.20,424.46 L103.96,425.07 L106.72,425.41 L109.48,425.56 L112.25,425.55 L115.01,425.41 L117.77,425.18 L120.53,424.87 L123.29,424.49 L126.05,424.06 L128.82,423.57 L131.58,423.05 L134.34,422.49 L137.10,421.91 L139.86,421.29 L142.62,420.65 L145.39,420.00 L148.15,419.32 L150.91,418.63 L153.67,417.92 L156.43,417.21 L159.19,416.48 L161.96,415.74 L164.72,414.99 L167.48,414.23 L170.24,413.47 L173.00,412.69 L175.76,411.91 L178.53,411.13 L181.29,410.34 L184.05,409.54 L186.81,408.75 L189.57,407.94 L192.33,407.13 L195.10,406.32 L197.86,405.51 L200.62,404.69 L203.38,403.87 L206.14,403.05 L208.90,402.23 L211.66,401.40 L214.43,400.57 L217.19,399.74 L219.95,398.91 L222.71,398.07 L225.47,397.24 L228.23,396.40 L231.00,395.56 L233.76,394.72 L236.52,393.88 L239.28,393.04 L242.04,392.20 L244.80,391.36 L247.57,390.52 L250.33,389.67 L253.09,388.83 L255.85,387.99 L258.61,387.14 L261.37,386.30 L264.14,385.45 L266.90,384.60 L269.66,383.76 L272.42,382.91 L275.18,382.07 L277.94,381.22 L280.71,380.37 L283.47,379.53 L286.23,378.68 L288.99,377.84 L291.75,376.99 L294.51,376.15 L297.28,375.30 L300.04,374.46 L302.80,373.61 L305.56,372.77 L308.32,371.93 L311.08,371.08 L313.85,370.24 L316.61,369.40 L319.37,368.56 L322.13,367.72 L324.89,366.88 L327.65,366.04 L330.42,365.20 L333.18,364.36 L335.94,363.52 L338.70,362.68 L341.46,361.85 L344.22,361.01 L346.99,360.18 L349.75,359.34 L352.51,358.51 L355.27,357.68 L358.03,356.84 L360.79,356.01 L363.56,355.18 L366.32,354.35 L369.08,353.53 L371.84,352.70 L374.60,351.87 L377.36,351.05 L380.13,350.22 L382.89,349.40 L385.65,348.58 L388.41,347.76 L391.17,346.94 L393.93,346.12 L396.70,345.30 L399.46,344.49 L402.22,343.67 L404.98,342.86 L407.74,342.04 L410.50,341.23 L413.27,340.42 L416.03,339.61 L418.79,338.80 L421.55,338.00 L424.31,337.19 L427.07,336.39 L429.83,335.58 L432.60,334.78 L435.36,333.98 L438.12,333.18 L440.88,332.39 L443.64,331.59 L446.40,330.80 L449.17,330.00 L451.93,329.21 L454.69,328.42 L457.45,327.63 L460.21,326.85 L462.97,326.06 L465.74,325.28 L468.50,324.49 L471.26,323.71 L474.02,322.93 L476.78,322.16 L479.54,321.38 L482.31,320.61 L485.07,319.83 L487.83,319.06 L490.59,318.29 L493.35,317.52 L496.11,316.76 L498.88,315.99 L501.64,315.23 L504.40,314.47 L507.16,313.71 L509.92,312.95 L512.68,312.20 L515.45,311.44 L518.21,310.69 L520.97,309.94 L523.73,309.19 L526.49,308.45 L529.25,307.70 L532.02,306.96 L534.78,306.22 L537.54,305.48" stroke="#2E6399"/>
<path d="M77.00,254.00 L77.36,283.80 L77.73,305.63 L78.09,322.30 L78.45,335.44 L78.82,346.05 L79.18,354.79 L79.54,362.12 L79.91,368.35 L80.27,373.70 L80.63,378.34 L81.00,382.41 L81.36,386.00 L81.72,389.19 L82.09,392.04 L82.45,394.60 L82.81,396.91 L83.18,399.00 L83.54,400.91 L83.90,402.65 L84.27,404.25 L84.63,405.72 L84.99,407.07 L85.36,408.32 L85.72,409.47 L86.08,410.54 L86.45,411.54 L86.81,412.47 L87.17,413.34 L87.54,414.14 L87.90,414.90 L88.26,415.61 L88.63,416.28 L88.99,416.90 L89.35,417.49 L89.72,418.04 L90.08,418.56 L90.44,419.05 L90.81,419.51 L91.17,419.95 L91.53,420.36 L91.90,420.75 L92.26,421.12 L92.62,421.46 L92.99,421.79 L93.35,422.10 L93.71,422.40 L94.08,422.68 L94.44,422.94 L94.80,423.19 L95.17,423.43 L95.53,423.65 L95.89,423.87 L96.26,424.07 L96.62,424.26 L96.98,424.44 L97.35,424.61 L97.71,424.77 L98.07,424.93 L98.44,425.07 L101.20,425.93 L103.96,426.47 L106.72,426.75 L109.48,426.85 L112.25,426.80 L115.01,426.65 L117.77,426.39 L120.53,426.07 L123.29,425.68 L126.05,425.24 L128.82,424.75 L131.58,424.23 L134.34,423.67 L137.10,423.09 L139.86,422.49 L142.62,421.86 L145.39,421.22 L148.15,420.56 L150.91,419.88 L153.67,419.19 L156.43,418.50 L159.19,417.79 L161.96,417.07 L164.72,416.34 L167.48,415.61 L170.24,414.87 L173.00,414.12 L175.76,413.37 L178.53,412.62 L181.29,411.86 L184.05,411.09 L186.81,410.32 L189.57,409.55 L192.33,408.78 L195.10,408.00 L197.86,407.22 L200.62,406.44 L203.38,405.65 L206.14,404.87 L208.90,404.08 L211.66,403.29 L214.43,402.50 L217.19,401.71 L219.95,400.91 L222.71,400.12 L225.47,399.32 L228.23,398.53 L231.00,397.73 L233.76,396.93 L236.52,396.13 L239.28,395.33 L242.04,394.53 L244.80,393.73 L247.57,392.93 L250.33,392.13 L253.09,391.33 L255.85,390.53 L258.61,389.73 L261.37,388.92 L264.14,388.12 L266.90,387.32 L269.66,386.52 L272.42,385.72 L275.18,384.92 L277.94,384.11 L280.71,383.31 L283.47,382.51 L286.23,381.71 L288.99,380.91 L291.75,380.11 L294.51,379.31 L297.28,378.51 L300.04,377.70 L302.80,376.90 L305.56,376.10 L308.32,375.30 L311.08,374.51 L313.85,373.71 L316.61,372.91 L319.37,372.11 L322.13,371.31 L324.89,370.51 L327.65,369.72 L330.42,368.92 L333.18,368.12 L335.94,367.33 L338.70,366.53 L341.46,365.74 L344.22,364.94 L346.99,364.15 L349.75,363.35 L352.51,362.56 L355.27,361.77 L358.03,360.97 L360.79,360.18 L363.56,359.39 L366.32,358.60 L369.08,357.81 L371.84,357.02 L374.60,356.23 L377.36,355.44 L380.13,354.65 L382.89,353.86 L385.65,353.07 L388.41,352.28 L391.17,351.50 L393.93,350.71 L396.70,349.92 L399.46,349.14 L402.22,348.35 L404.98,347.57 L407.74,346.78 L410.50,346.00 L413.27,345.22 L416.03,344.43 L418.79,343.65 L421.55,342.87 L424.31,342.09 L427.07,341.31 L429.83,340.53 L432.60,339.75 L435.36,338.97 L438.12,338.19 L440.88,337.41 L443.64,336.63 L446.40,335.86 L449.17,335.08 L451.93,334.30 L454.69,333.53 L457.45,332.75 L460.21,331.98 L462.97,331.20 L465.74,330.43 L468.50,329.65 L471.26,328.88 L474.02,328.11 L476.78,327.34 L479.54,326.57 L482.31,325.79 L485.07,325.02 L487.83,324.25 L490.59,323.49 L493.35,322.72 L496.11,321.95 L498.88,321.18 L501.64,320.41 L504.40,319.64 L507.16,318.88 L509.92,318.11 L512.68,317.35 L515.45,316.58 L518.21,315.82 L520.97,315.05 L523.73,314.29 L526.49,313.52 L529.25,312.76 L532.02,312.00 L534.78,311.24 L537.54,310.48" stroke="#3A80C5"/>
<path d="M77.00,261.99 L77.36,290.68 L77.73,311.68 L78.09,327.72 L78.45,340.36 L78.82,350.57 L79.18,358.98 L79.54,366.03 L79.91,372.02 L80.27,377.17 L80.63,381.64 L81.00,385.55 L81.36,389.01 L81.72,392.07 L82.09,394.81 L82.45,397.28 L82.81,399.50 L83.18,401.52 L83.54,403.35 L83.90,405.03 L84.27,406.56 L84.63,407.97 L84.99,409.27 L85.36,410.47 L85.72,411.58 L86.08,412.61 L86.45,413.57 L86.81,414.47 L87.17,415.30 L87.54,416.08 L87.90,416.80 L88.26,417.49 L88.63,418.12 L88.99,418.72 L89.35,419.29 L89.72,419.82 L90.08,420.32 L90.44,420.79 L90.81,421.23 L91.17,421.65 L91.53,422.05 L91.90,422.42 L92.26,422.78 L92.62,423.11 L92.99,423.43 L93.35,423.72 L93.71,424.01 L94.08,424.28 L94.44,424.53 L94.80,424.77 L95.17,425.00 L95.53,425.21 L95.89,425.42 L96.26,425.61 L96.62,425.80 L96.98,425.97 L97.35,426.13 L97.71,426.29 L98.07,426.44 L98.44,426.57 L101.20,427.40 L103.96,427.91 L106.72,428.19 L109.48,428.29 L112.25,428.25 L115.01,428.09 L117.77,427.86 L120.53,427.55 L123.29,427.18 L126.05,426.76 L128.82,426.30 L131.58,425.80 L134.34,425.28 L137.10,424.73 L139.86,424.16 L142.62,423.56 L145.39,422.95 L148.15,422.33 L150.91,421.69 L153.67,421.05 L156.43,420.39 L159.19,419.72 L161.96,419.04 L164.72,418.36 L167.48,417.67 L170.24,416.98 L173.00,416.28 L175.76,415.57 L178.53,414.86 L181.29,414.15 L184.05,413.43 L186.81,412.72 L189.57,411.99 L192.33,411.27 L195.10,410.54 L197.86,409.81 L200.62,409.08 L203.38,408.35 L206.14,407.62 L208.90,406.88 L211.66,406.15 L214.43,405.41 L217.19,404.67 L219.95,403.93 L222.71,403.19 L225.47,402.45 L228.23,401.71 L231.00,400.97 L233.76,400.23 L236.52,399.49 L239.28,398.74 L242.04,398.00 L244.80,397.26 L247.57,396.52 L250.33,395.77 L253.09,395.03 L255.85,394.29 L258.61,393.54 L261.37,392.80 L264.14,392.05 L266.90,391.31 L269.66,390.57 L272.42,389.82 L275.18,389.08 L277.94,388.34 L280.71,387.59 L283.47,386.85 L286.23,386.11 L288.99,385.36 L291.75,384.62 L294.51,383.88 L297.28,383.13 L300.04,382.39 L302.80,381.65 L305.56,380.91 L308.32,380.16 L311.08,379.42 L313.85,378.68 L316.61,377.94 L319.37,377.20 L322.13,376.46 L324.89,375.71 L327.65,374.97 L330.42,374.23 L333.18,373.49 L335.94,372.75 L338.70,372.01 L341.46,371.27 L344.22,370.53 L346.99,369.79 L349.75,369.05 L352.51,368.30 L355.27,367.56 L358.03,366.82 L360.79,366.08 L363.56,365.34 L366.32,364.60 L369.08,363.86 L371.84,363.12 L374.60,362.38 L377.36,361.64 L380.13,360.90 L382.89,360.16 L385.65,359.42 L388.41,358.68 L391.17,357.93 L393.93,357.19 L396.70,356.45 L399.46,355.71 L402.22,354.97 L404.98,354.23 L407.74,353.48 L410.50,352.74 L413.27,352.00 L416.03,351.26 L418.79,350.51 L421.55,349.77 L424.31,349.03 L427.07,348.28 L429.83,347.54 L432.60,346.80 L435.36,346.05 L438.12,345.31 L440.88,344.56 L443.64,343.81 L446.40,343.07 L449.17,342.32 L451.93,341.57 L454.69,340.83 L457.45,340.08 L460.21,339.33 L462.97,338.58 L465.74,337.83 L468.50,337.08 L471.26,336.33 L474.02,335.58 L476.78,334.83 L479.54,334.08 L482.31,333.33 L485.07,332.57 L487.83,331.82 L490.59,331.07 L493.35,330.31 L496.11,329.56 L498.88,328.80 L501.64,328.04 L504.40,327.29 L507.16,326.53 L509.92,325.77 L512.68,325.01 L515.45,324.25 L518.21,323.49 L520.97,322.72 L523.73,321.96 L526.49,321.20 L529.25,320.43 L532.02,319.67 L534.78,318.90 L537.54,318.13" stroke="#47A0F5"/>
</g>
<rect x="560.40" y="7.33" width="22.50" height="211.57" fill="#D0D0D0"/>
<rect x="560.40" y="226.30" width="22.50" height="211.50" fill="#D0D0D0"/>
<text transform="translate(567.00,113.62) rotate(90)" text-anchor="middle" font-size="11.73" fill="#141414">.discount</text>
<text transform="translate(567.00,332.65) rotate(90)" text-anchor="middle" font-size="11.73" fill="#141414">.yield</text>
<g stroke="#262626" stroke-width="1.42">
<line x1="50.23" x2="53.90" y1="171.71" y2="171.71"/>
<line x1="50.23" x2="53.90" y1="119.28" y2="119.28"/>
<line x1="50.23" x2="53.90" y1="66.84" y2="66.84"/>
<line x1="50.23" x2="53.90" y1="14.40" y2="14.40"/>
<line x1="50.23" x2="53.90" y1="394.25" y2="394.25"/>
<line x1="50.23" x2="53.90" y1="329.52" y2="329.52"/>
<line x1="50.23" x2="53.90" y1="264.80" y2="264.80"/>
<line x1="75.00" x2="75.00" y1="437.80" y2="441.47"/>
<line x1="192.19" x2="192.19" y1="437.80" y2="441.47"/>
<line x1="309.38" x2="309.38" y1="437.80" y2="441.47"/>
<line x1="426.56" x2="426.56" y1="437.80" y2="441.47"/>
<line x1="543.75" x2="543.75" y1="437.80" y2="441.47"/>
</g>
<g font-size="11.73" fill="#3C3C3C">
<text x="47.3" y="176.06" text-anchor="end">0.25</text>
<text x="47.3" y="123.62" text-anchor="end">0.50</text>
<text x="47.3" y="71.59" text-anchor="end">0.75</text>
<text x="47.3" y="18.75" text-anchor="end">1.00</text>
<text x="47.3" y="398.60" text-anchor="end">0.05</text>
<text x="47.3" y="333.88" text-anchor="end">0.10</text>
<text x="47.3" y="269.15" text-anchor="end">0.15</text>
<text x="75.30" y="452.55" text-anchor="middle">0</text>
<text x="192.49" y="452.55" text-anchor="middle">5</text>
<text x="309.68" y="452.55" text-anchor="middle">10</text>
<text x="426.86" y="452.55" text-anchor="middle">15</text>
<text x="544.05" y="452.55" text-anchor="middle">20</text>
</g>
<text x="307.15" y="469.8" text-anchor="middle" font-size="14.67" fill="#000000">tau</text>
<text transform="translate(18.3,222.56) rotate(-90)" text-anchor="middle" font-size="14.67" fill="#000000">.value</text>
<text x="604.65" y="166.9" font-size="14.67" fill="#000000">qdate</text>
<rect x="604.95" y="175.45" width="23.05" height="115.20" fill="url(#lg)"/>
<g stroke="#FFFFFF" stroke-width="1" stroke-opacity="0.75">
<line x1="604.95" x2="609.85" y1="290.65" y2="290.65"/>
<line x1="623.10" x2="628.00" y1="290.65" y2="290.65"/>
<line x1="604.95" x2="609.85" y1="267.61" y2="267.61"/>
<line x1="623.10" x2="628.00" y1="267.61" y2="267.61"/>
<line x1="604.95" x2="609.85" y1="244.57" y2="244.57"/>
<line x1="623.10" x2="628.00" y1="244.57" y2="244.57"/>
<line x1="604.95" x2="609.85" y1="221.53" y2="221.53"/>
<line x1="623.10" x2="628.00" y1="221.53" y2="221.53"/>
<line x1="604.95" x2="609.85" y1="198.49" y2="198.49"/>
<line x1="623.10" x2="628.00" y1="198.49" y2="198.49"/>
<line x1="604.95" x2="609.85" y1="175.45" y2="175.45"/>
<line x1="623.10" x2="628.00" y1="175.45" y2="175.45"/>
</g>
<g font-size="11.73" fill="#000000">
<text x="634.9" y="294.80">Mar</text>
<text x="634.9" y="272.10">Apr</text>
<text x="634.9" y="248.80">May</text>
<text x="634.9" y="225.70">Jun</text>
<text x="634.9" y="204.00">Jul</text>
<text x="634.9" y="179.70">Aug</text>
</g>
</svg>
</body></html>
